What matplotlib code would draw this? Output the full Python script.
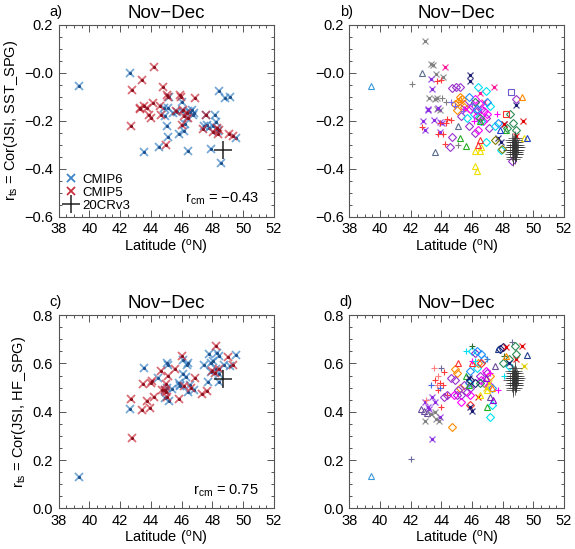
import matplotlib
matplotlib.use("Agg")
import matplotlib.pyplot as plt
from matplotlib.ticker import MultipleLocator, FixedLocator, FixedFormatter
from matplotlib.lines import Line2D

plt.rcParams['font.family'] = ['Liberation Sans', 'DejaVu Sans']
plt.rcParams['mathtext.default'] = 'regular'

season = "Nov−Dec"
xticks = [38, 40, 42, 44, 46, 48, 50, 52]
sst_ticks = [0.2, 0.0, -0.2, -0.4, -0.6]
sst_ticklabels = ['0.2', '−0.0', '−0.2', '−0.4', '−0.6']
hf_ticks = [0.8, 0.6, 0.4, 0.2, 0.0]
hf_ticklabels = ['0.8', '0.6', '0.4', '0.2', '0.0']

# ---- panel a: SST_SPG, model means ----
a_cmip6_lat = [39.3, 42.64, 43.57, 44.5, 45.13, 45.02, 45.84, 46.15, 46.4, 45.2, 48.44, 48.81, 49.14,
               46.0, 44.85, 45.13, 44.91, 45.45, 45.71, 46.0, 46.43, 46.65, 46.71, 46.33, 46.2, 47.58,
               48.16, 46.54, 46.8, 47.45, 47.62, 47.8, 48.06, 48.38, 49.53, 47.88, 48.55, 48.2, 48.3]
a_cmip6_val = [-0.055, -0.003, -0.33, -0.31, -0.267, -0.22, -0.254, -0.244, -0.324, -0.10, -0.078, -0.106, -0.099,
               -0.123, -0.147, -0.147, -0.182, -0.168, -0.164, -0.158, -0.161, -0.154, -0.175, -0.188, -0.212, -0.175,
               -0.175, -0.165, -0.168, -0.223, -0.216, -0.23, -0.223, -0.243, -0.272, -0.316, -0.375, -0.205, -0.235]
a_cmip5_lat = [44.22, 43.44, 42.75, 44.8, 45.02, 45.13, 45.89, 45.93, 46.86, 44.11, 43.29, 43.55, 43.76,
               44.59, 44.63, 43.89, 43.98, 46.06, 45.6, 46.0, 42.68, 47.58, 46.32, 46.15, 46.43, 47.36,
               48.06, 48.28, 48.45, 48.38, 49.1, 49.36, 44.98, 43.3]
a_cmip5_val = [0.022, -0.03, -0.072, -0.058, -0.092, -0.103, -0.092, -0.103, -0.106, -0.124, -0.145, -0.14, -0.145,
               -0.14, -0.175, -0.178, -0.189, -0.154, -0.16, -0.219, -0.223, -0.178, -0.168, -0.182, -0.189, -0.234,
               -0.248, -0.23, -0.237, -0.254, -0.255, -0.262, -0.30, -0.152]
a_20cr_lat = [48.7]
a_20cr_val = [-0.32]
a_rcm = "−0.43"

# ---- panel c: HF_SPG, model means ----
c_cmip6_lat = [39.3, 42.64, 43.55, 45.02, 45.13, 46.06, 46.32, 46.43, 47.45, 47.79, 48.27, 48.44, 49.53,
               47.9, 48.05, 48.75, 49.14, 46.1, 46.3, 44.48, 48.44, 45.84, 45.89, 47.72, 48.44, 44.91,
               45.19, 44.9, 45.05, 45.4, 46.55, 46.8, 46.4, 48.2, 47.9, 45.9]
c_cmip6_val = [0.13, 0.412, 0.582, 0.602, 0.595, 0.616, 0.595, 0.602, 0.595, 0.641, 0.644, 0.632, 0.637,
               0.60, 0.61, 0.595, 0.591, 0.555, 0.545, 0.54, 0.555, 0.52, 0.506, 0.522, 0.522, 0.458,
               0.444, 0.49, 0.50, 0.495, 0.51, 0.49, 0.48, 0.575, 0.565, 0.51]
c_cmip5_lat = [42.8, 42.68, 43.4, 43.46, 43.76, 43.94, 44.05, 43.98, 44.22, 44.63, 44.7, 44.9, 45.0,
               45.0, 45.09, 45.56, 45.84, 46.0, 46.17, 46.6, 46.86, 47.3, 47.62, 48.0, 48.16, 48.23,
               49.03, 49.36, 48.45, 45.05]
c_cmip5_val = [0.29, 0.454, 0.407, 0.513, 0.444, 0.417, 0.526, 0.52, 0.46, 0.567, 0.49, 0.49, 0.515,
               0.48, 0.547, 0.578, 0.454, 0.632, 0.506, 0.50, 0.54, 0.472, 0.485, 0.567, 0.561, 0.671,
               0.627, 0.595, 0.575, 0.46]
c_20cr_lat = [48.7]
c_20cr_val = [0.536]
c_rcm = "0.75"

# ---- panel b: SST_SPG, all ensemble members (lat list, value list) ----
b_gray_ast = ([42.93, 43.31, 43.46, 43.65, 44.09, 43.2, 43.7, 43.7, 43.93, 43.6],
              [0.132, 0.036, 0.032, -0.007, -0.016, -0.106, -0.106, -0.15, -0.154, -0.11])
b_violet_ast = ([43.3, 43.37, 43.15, 43.8, 42.82, 43.52, 43.91, 42.93, 43.9, 43.1, 44.05],
                [-0.027, -0.069, -0.154, -0.147, -0.199, -0.196, -0.207, -0.24, -0.245, -0.15, -0.21])
b_red_plus = ([43.7, 43.96, 44.35, 44.61, 42.72, 43.8, 44.09, 44.24, 44.3, 43.9],
              [-0.033, -0.03, -0.193, -0.196, -0.226, -0.254, -0.254, -0.295, -0.21, -0.21])
b_gray_plus = ([42.07, 45.1, 44.02, 44.3], [-0.045, -0.30, -0.106, -0.12])
b_slate_tri = ([42.72, 43.59, 45.1], [-0.003, -0.331, -0.223])
b_lblue_tri = ([39.4], [-0.055])
b_magenta_ast = ([44.24, 46.52, 47.43, 45.6, 46.8], [0.022, -0.085, -0.058, -0.15, -0.12])
b_navy_ast = ([45.87, 45.87, 48.87, 47.72, 47.9, 48.1], [-0.01, -0.033, -0.134, -0.27, -0.29, -0.212])
b_purple_dia = ([44.67, 44.96, 45.22, 44.67, 44.57, 48.87, 48.59, 45.5, 46.0, 46.3, 46.6, 46.9, 45.8, 46.2, 47.1, 45.3],
                [-0.062, -0.06, -0.058, -0.269, -0.31, -0.11, -0.368, -0.13, -0.14, -0.16, -0.15, -0.19, -0.22, -0.25, -0.23, -0.18])
b_orange_dia = ([45.1, 45.33, 45.0, 45.48, 44.9, 45.2], [-0.12, -0.11, -0.154, -0.143, -0.13, -0.10])
b_cyan_dia = ([46.41, 46.9, 47.2, 46.1, 47.5, 46.6, 45.7, 47.9, 46.9],
              [-0.058, -0.075, -0.14, -0.17, -0.22, -0.2, -0.19, -0.32, -0.29])
b_magenta_dia = ([46.2, 46.5, 46.8, 46.3, 46.7, 47.0, 45.9, 46.4], [-0.11, -0.13, -0.16, -0.18, -0.2, -0.17, -0.15, -0.24])
b_green_tri = ([45.22, 45.6, 46.5, 48.2], [-0.272, -0.303, -0.2, -0.24])
b_yellow_tri = ([46.2, 46.52, 46.6, 46.2, 46.35, 49.4], [-0.327, -0.327, -0.31, -0.39, -0.41, -0.27])
b_red_tri = ([46.4, 46.5], [-0.3, -0.28])
b_red_ast = ([49.3, 48.08, 48.87], [-0.199, -0.212, -0.265])
b_green_dia = ([48.5, 48.7, 48.9, 48.3, 46.2, 46.5], [-0.171, -0.21, -0.24, -0.23, -0.12, -0.19])
b_blue_sq = ([48.52], [-0.079])
b_red_sq = ([48.2], [-0.171])
b_orange_tri = ([49.24, 45.2], [-0.099, -0.11])
b_blue_tri = ([49.57, 47.8], [-0.272, -0.24])
b_magenta_plus = ([47.6, 45.5, 46.1], [-0.172, -0.15, -0.2])
b_slate_plus = ([44.6, 44.9, 45.4, 46.0], [-0.12, -0.14, -0.16, -0.13])
b_olive_dia = ([47.93, 47.5], [-0.316, -0.28])
b_blue_dia = ([45.8, 46.3, 47.0, 47.7], [-0.1, -0.15, -0.12, -0.21])
b_20cr_lat = [48.6, 48.7, 48.8, 48.9, 48.75, 48.65, 48.85, 48.95, 48.7, 48.8, 48.6, 48.9, 48.75, 48.85, 48.7, 48.8,
              48.65, 48.95, 48.75, 48.8, 48.7, 48.9, 48.6, 48.85, 48.75, 48.8, 49.0, 48.5, 48.7, 48.8, 48.9, 48.75]
b_20cr_val = [-0.28, -0.29, -0.30, -0.31, -0.32, -0.33, -0.34, -0.30, -0.35, -0.27, -0.31, -0.33, -0.29, -0.32, -0.31, -0.34,
              -0.30, -0.32, -0.33, -0.28, -0.36, -0.29, -0.34, -0.31, -0.30, -0.33, -0.31, -0.32, -0.32, -0.35, -0.34, -0.31]

# ---- panel d: HF_SPG, all ensemble members ----
d_lblue_tri = ([39.39], [0.132])
d_slate_plus = ([42.05, 44.0, 47.0, 48.6], [0.206, 0.58, 0.62, 0.69])
d_violet_ast = ([43.4, 42.95, 43.2, 43.6, 43.9, 43.1, 43.4], [0.289, 0.44, 0.41, 0.44, 0.38, 0.42, 0.46])
d_orange_dia = ([44.7, 44.9, 45.0, 45.2, 46.4, 47.2], [0.337, 0.575, 0.56, 0.5, 0.6, 0.55])
d_cyan_dia = ([47.15, 46.0, 46.3, 47.3, 45.8, 48.4], [0.378, 0.65, 0.58, 0.43, 0.52, 0.59])
d_purple_tri = ([42.68, 42.85, 43.07, 47.5, 47.2], [0.41, 0.403, 0.396, 0.59, 0.46])
d_gray_ast = ([42.96, 43.66, 43.83, 43.3, 43.6], [0.361, 0.368, 0.361, 0.39, 0.4])
d_red_plus = ([43.9, 44.1, 44.2, 43.8, 44.4, 43.6, 44.0], [0.52, 0.51, 0.565, 0.49, 0.47, 0.53, 0.42])
d_pink_plus = ([43.5, 43.8, 43.0, 43.7], [0.58, 0.55, 0.45, 0.51])
d_blue_plus = ([43.3, 43.9], [0.51, 0.50])
d_purple_dia = ([44.6, 44.9, 45.1, 45.5, 45.7, 45.3, 45.9, 46.5, 46.8, 47.0, 44.2, 44.4, 45.0, 46.2],
                [0.54, 0.53, 0.49, 0.51, 0.48, 0.47, 0.5, 0.55, 0.52, 0.56, 0.46, 0.47, 0.47, 0.645])
d_magenta_dia = ([45.3, 45.9, 46.6, 46.9, 44.8, 47.1], [0.44, 0.47, 0.53, 0.57, 0.47, 0.51])
d_red_tri = ([45.1, 46.0], [0.6, 0.6])
d_green_tri = ([45.6, 47.0, 45.8], [0.55, 0.42, 0.51])
d_dgreen_plus = ([46.0, 48.1], [0.674, 0.63])
d_blue_dia = ([46.3, 46.6, 46.75, 45.9, 47.3], [0.65, 0.64, 0.62, 0.57, 0.5])
d_navy_dia = ([47.8, 48.0, 45.9, 46.2], [0.661, 0.667, 0.53, 0.52])
d_red_ast = ([48.2, 49.25, 48.9, 46.4], [0.667, 0.674, 0.62, 0.46])
d_green_dia = ([48.78, 48.85, 48.4, 48.0, 46.5], [0.674, 0.64, 0.62, 0.6, 0.52])
d_navy_tri = ([49.57, 47.7], [0.637, 0.66])
d_yellow_ast = ([49.4, 46.9, 47.1], [0.59, 0.5, 0.52])
d_magenta_plus = ([47.67, 47.2, 46.0], [0.488, 0.56, 0.61])
d_cyan_plus = ([45.6, 46.2, 48.1], [0.65, 0.61, 0.55])
d_violet_tri = ([47.35, 46.9], [0.45, 0.54])
d_red_dia = ([45.9, 46.6], [0.43, 0.6])
d_navy_ast = ([45.9, 46.0, 48.4, 45.8], [0.42, 0.405, 0.6, 0.54])
d_orange_tri = ([47.3, 48.2], [0.5, 0.63])
d_yellow_tri = ([46.5, 47.0], [0.47, 0.49])
d_20cr_lat = [48.6, 48.7, 48.8, 48.9, 48.75, 48.65, 48.85, 48.95, 48.7, 48.8, 48.6, 48.9, 48.75, 48.85, 48.7, 48.8,
              48.65, 48.95, 48.75, 48.8, 48.7, 48.9, 48.6, 48.85, 48.75, 48.8, 49.0, 48.5, 48.7, 48.8, 48.9, 48.75]
d_20cr_val = [0.57, 0.56, 0.55, 0.54, 0.53, 0.52, 0.51, 0.55, 0.50, 0.58, 0.54, 0.52, 0.56, 0.53, 0.54, 0.51,
              0.55, 0.53, 0.52, 0.57, 0.49, 0.56, 0.51, 0.54, 0.55, 0.52, 0.54, 0.53, 0.53, 0.50, 0.51, 0.54]

CMIP6_COL = '#3d85c6'
CMIP5_COL = '#c9303e'
AST = (8, 2, 0)

b_styles = [
    (b_gray_ast, AST, '#808080'), (b_violet_ast, AST, '#8a2be2'), (b_red_plus, '+', '#ff3a3a'),
    (b_gray_plus, '+', '#808080'), (b_slate_tri, '^', '#5a6e8c'), (b_lblue_tri, '^', '#3a9ad9'),
    (b_magenta_ast, AST, '#ff1493'), (b_navy_ast, AST, '#191970'), (b_purple_dia, 'D', '#9932cc'),
    (b_orange_dia, 'D', '#ff8c00'), (b_cyan_dia, 'D', '#00e0f0'), (b_magenta_dia, 'D', '#ff00ff'),
    (b_green_tri, '^', '#22b022'), (b_yellow_tri, '^', '#f0e000'), (b_red_tri, '^', '#ff3030'),
    (b_red_ast, AST, '#e00000'), (b_green_dia, 'D', '#2e8b57'), (b_blue_sq, 's', '#6a5acd'),
    (b_red_sq, 's', '#ff3030'), (b_orange_tri, '^', '#ff8c00'), (b_blue_tri, '^', '#1e3cc8'),
    (b_magenta_plus, '+', '#ff00ff'), (b_slate_plus, '+', '#7b68ee'), (b_olive_dia, 'D', '#808000'),
    (b_blue_dia, 'D', '#1e90ff'),
]
d_styles = [
    (d_lblue_tri, '^', '#3a9ad9'), (d_slate_plus, '+', '#6a6a9a'), (d_violet_ast, AST, '#8a2be2'),
    (d_orange_dia, 'D', '#ff8c00'), (d_cyan_dia, 'D', '#00e0f0'), (d_purple_tri, '^', '#6a4c9c'),
    (d_gray_ast, AST, '#808080'), (d_red_plus, '+', '#ff3a3a'), (d_pink_plus, '+', '#ff8080'),
    (d_blue_plus, '+', '#4169e1'), (d_purple_dia, 'D', '#9932cc'), (d_magenta_dia, 'D', '#ff00ff'),
    (d_red_tri, '^', '#ff3030'), (d_green_tri, '^', '#22b022'), (d_dgreen_plus, '+', '#2e6b2e'),
    (d_blue_dia, 'D', '#1e90ff'), (d_navy_dia, 'D', '#191970'), (d_red_ast, AST, '#e00000'),
    (d_green_dia, 'D', '#2e8b57'), (d_navy_tri, '^', '#1e3c8c'), (d_yellow_ast, AST, '#e0d000'),
    (d_magenta_plus, '+', '#ff00ff'), (d_cyan_plus, '+', '#00e0f0'), (d_violet_tri, '^', '#9400d3'),
    (d_red_dia, 'D', '#ff3030'), (d_navy_ast, AST, '#191970'), (d_orange_tri, '^', '#ff8c00'),
    (d_yellow_tri, '^', '#f0e000'),
]


def style_axes(ax, ticks, ticklabels, ylim):
    ax.set_xlim(38, 52)
    ax.set_ylim(*ylim)
    ax.xaxis.set_major_locator(FixedLocator(xticks))
    ax.xaxis.set_minor_locator(MultipleLocator(0.5))
    ax.yaxis.set_major_locator(FixedLocator(ticks))
    ax.yaxis.set_major_formatter(FixedFormatter(ticklabels))
    ax.yaxis.set_minor_locator(MultipleLocator(0.05))
    ax.tick_params(which='both', direction='in', top=True, right=True, labelsize=10.5, colors='#555555',
                   labelcolor='black', width=0.7)
    ax.tick_params(which='major', length=5, pad=4)
    ax.tick_params(which='minor', length=2.5)
    for s in ax.spines.values():
        s.set_color('#555555')
        s.set_linewidth(0.8)
    ax.set_xlabel('Latitude ($^{o}$N)', fontsize=10.5, labelpad=1)
    ax.set_title(season, fontsize=13.5, pad=5)


def draw_means(ax, lat6, val6, lat5, val5, lat20, val20):
    ax.plot(lat6, val6, ls='none', marker='x', ms=5.5, mew=1.3, color=CMIP6_COL, alpha=0.7)
    ax.plot(lat6, val6, ls='none', marker='.', ms=2.5, color='#1f4f8a')
    ax.plot(lat5, val5, ls='none', marker='x', ms=5.5, mew=1.3, color=CMIP5_COL, alpha=0.7)
    ax.plot(lat5, val5, ls='none', marker='.', ms=2.5, color='#8a1020')
    ax.plot(lat20, val20, ls='none', marker='+', ms=13, mew=1.1, color='#222222')


def draw_members(ax, styles, lat20, val20):
    for (lats, vals), mk, col in styles:
        if mk == AST:
            ax.plot(lats, vals, ls='none', marker='x', ms=4.5, mew=0.9, color=col, alpha=0.8)
            ax.plot(lats, vals, ls='none', marker='.', ms=2.5, color=col)
        else:
            ax.plot(lats, vals, ls='none', marker=mk, ms=5 if mk != 'D' else 4.0, mew=0.8,
                    mfc='none', color=col)
    ax.plot(lat20, val20, ls='none', marker='+', ms=10, mew=0.7, color='#333333', alpha=0.7)


fig = plt.figure(figsize=(5.75, 5.49), dpi=100)
ax_a = fig.add_axes([0.102, 0.605, 0.3745, 0.35])
ax_b = fig.add_axes([0.6075, 0.605, 0.3734, 0.35])
ax_c = fig.add_axes([0.102, 0.074, 0.3745, 0.352])
ax_d = fig.add_axes([0.6075, 0.074, 0.3734, 0.352])

for ax in (ax_a, ax_b):
    style_axes(ax, sst_ticks, sst_ticklabels, (-0.6, 0.2))
for ax in (ax_c, ax_d):
    style_axes(ax, hf_ticks, hf_ticklabels, (0.0, 0.8))

draw_means(ax_a, a_cmip6_lat, a_cmip6_val, a_cmip5_lat, a_cmip5_val, a_20cr_lat, a_20cr_val)
draw_means(ax_c, c_cmip6_lat, c_cmip6_val, c_cmip5_lat, c_cmip5_val, c_20cr_lat, c_20cr_val)
draw_members(ax_b, b_styles, b_20cr_lat, b_20cr_val)
draw_members(ax_d, d_styles, d_20cr_lat, d_20cr_val)

ax_a.set_ylabel('r$_{ts}$ = Cor(JSI, SST_SPG)', fontsize=10.5, labelpad=3)
ax_c.set_ylabel('r$_{ts}$ = Cor(JSI, HF_SPG)', fontsize=10.5, labelpad=3)

ax_a.text(0.93, 0.05, 'r$_{cm}$ = ' + a_rcm, transform=ax_a.transAxes, ha='right', va='bottom', fontsize=10.5)
ax_c.text(0.93, 0.05, 'r$_{cm}$ = ' + c_rcm, transform=ax_c.transAxes, ha='right', va='bottom', fontsize=10.5)

handles = [
    Line2D([], [], ls='none', marker='x', ms=5.5, mew=1.3, color=CMIP6_COL),
    Line2D([], [], ls='none', marker='x', ms=5.5, mew=1.3, color=CMIP5_COL),
    Line2D([], [], ls='none', marker='+', ms=13, mew=1.1, color='#222222'),
]
ax_a.legend(handles, ['CMIP6', 'CMIP5', '20CRv3'], loc='lower left', frameon=False, fontsize=9.5,
            handlelength=1.0, handletextpad=0.4, labelspacing=0.05, borderaxespad=0.2, borderpad=0.2)

for ax, lab in zip((ax_a, ax_b, ax_c, ax_d), ('a)', 'b)', 'c)', 'd)')):
    ax.text(-0.045, 1.03, lab, transform=ax.transAxes, ha='left', va='bottom', fontsize=10.5)

fig.savefig('out.png', dpi=100)
